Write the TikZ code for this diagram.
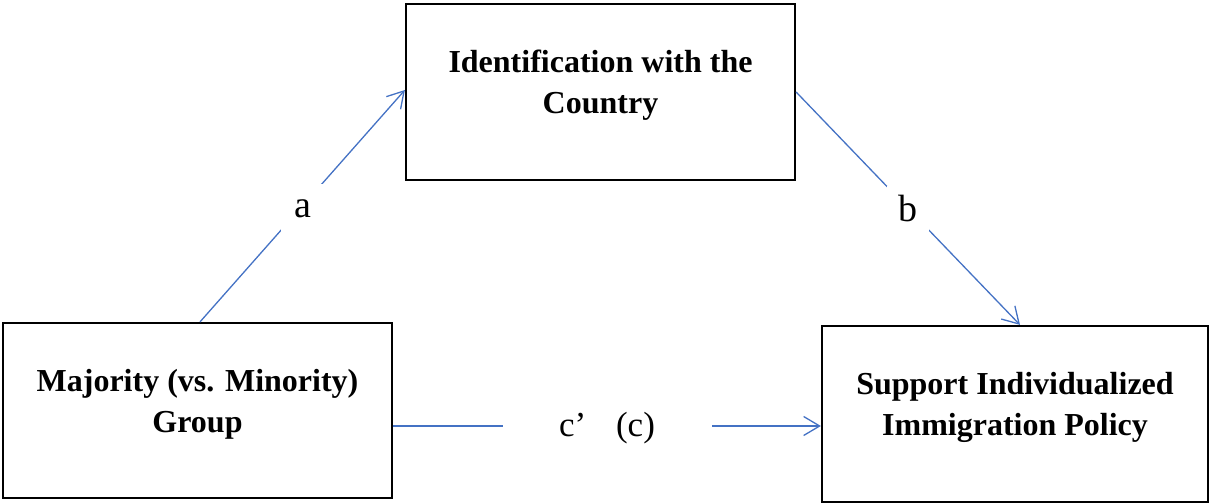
\documentclass[tikz,border=0pt]{standalone}
\usepackage{fontspec}
\setmainfont{Liberation Serif}
\usetikzlibrary{arrows.meta}
\definecolor{arrowblue}{HTML}{4472C4}
\tikzset{
  box/.style={draw=black, line width=2.2pt, minimum width=389pt, minimum height=176pt, inner sep=0pt},
  boxtext/.style={align=center, font=\fontsize{32}{41}\selectfont\bfseries, inner sep=0pt},
  conn/.style={draw=arrowblue, line width=1.3pt, -{Straight Barb[length=16pt,width=19pt,line width=1.3pt]}},
  lbl/.style={fill=white, inner sep=0pt, font=\fontsize{38}{42}\selectfont},
}
\begin{document}
\begin{tikzpicture}[x=1pt,y=1pt]
\useasboundingbox (0,0) rectangle (1209,503);
% boxes
\node[box] (top) at (600.5,411) {};
\node[box, minimum height=175pt] (left) at (197.5,92.5) {};
\node[box, minimum width=386pt] (right) at (1015,89) {};
% box texts
\node[boxtext] (toptext) at ([yshift=7pt]top.center) {Identification with the\\Country};
\node[boxtext] (lefttext) at ([yshift=6.5pt]left.center) {Majority (vs. Minority)\\Group};
\node[boxtext] (righttext) at ([yshift=6.5pt]right.center) {Support Individualized\\Immigration Policy};
% connectors
\draw[conn] ([xshift=2.5pt]left.north) -- node[lbl, minimum width=43pt, minimum height=50pt, yshift=-3pt] (la) {a} ([yshift=2pt]top.west);
\draw[conn] (top.east) -- node[lbl, minimum width=42pt, minimum height=45pt] (lb) {b} ([xshift=5pt]right.north);
\draw[conn] ([yshift=-15.5pt]left.east) -- node[lbl, minimum width=209pt, minimum height=36pt, font=\fontsize{35}{40}\selectfont, yshift=-2pt] (lc) {c’\hspace{0.85em}(c)} ([yshift=-12pt]right.west);
\end{tikzpicture}
\end{document}
